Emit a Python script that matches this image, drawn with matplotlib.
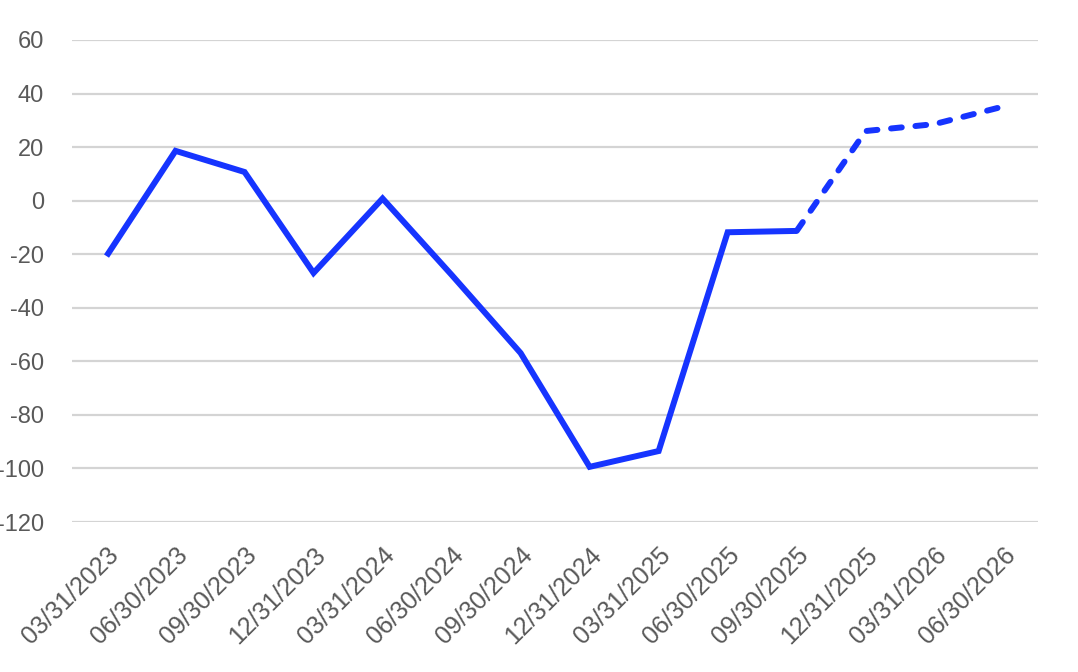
import matplotlib
matplotlib.use("Agg")
import matplotlib.pyplot as plt

dates = ["03/31/2023", "06/30/2023", "09/30/2023", "12/31/2023", "03/31/2024",
         "06/30/2024", "09/30/2024", "12/31/2024", "03/31/2025", "06/30/2025",
         "09/30/2025", "12/31/2025", "03/31/2026", "06/30/2026"]
values = [-20.7, 18.6, 10.7, -27.0, 0.8, -27.7, -56.9, -99.4, -93.5, -11.8,
          -11.3, 26.0, 28.6, 35.2]
n_actual = 11  # first 11 points are actual, rest are forecast (dashed)

plt.rcParams['font.family'] = ['Liberation Sans', 'DejaVu Sans']
plt.rcParams['axes.unicode_minus'] = False

fig = plt.figure(figsize=(10.78, 6.72), dpi=100)
ax = fig.add_axes([0.0668, 0.2232, 0.8963, 0.7173])

blue = '#1634ff'
x = list(range(len(dates)))
ax.plot(x[:n_actual], values[:n_actual], color=blue, linewidth=4.3,
        solid_joinstyle='miter', solid_capstyle='butt', zorder=3)
ax.plot(x[n_actual - 1:], values[n_actual - 1:], color=blue, linewidth=4.3,
        linestyle=(0, (1.8, 2.3)), dash_capstyle='round', zorder=3)

ax.set_xlim(-0.5, len(dates) - 0.5)
ax.set_ylim(-120, 60)
ax.set_yticks(range(-120, 61, 20))
ax.set_xticks(x)
ax.set_xticklabels(dates, rotation=45, ha='right', va='top', rotation_mode='anchor')

ax.grid(axis='y', color='#d4d4d4', linewidth=1.6)
ax.set_axisbelow(True)
for s in ax.spines.values():
    s.set_visible(False)
ax.tick_params(axis='both', length=0, labelcolor='#595959')
ax.tick_params(axis='y', pad=20, labelsize=17)
ax.tick_params(axis='x', pad=15, labelsize=18)

fig.savefig("out.png", dpi=100)
